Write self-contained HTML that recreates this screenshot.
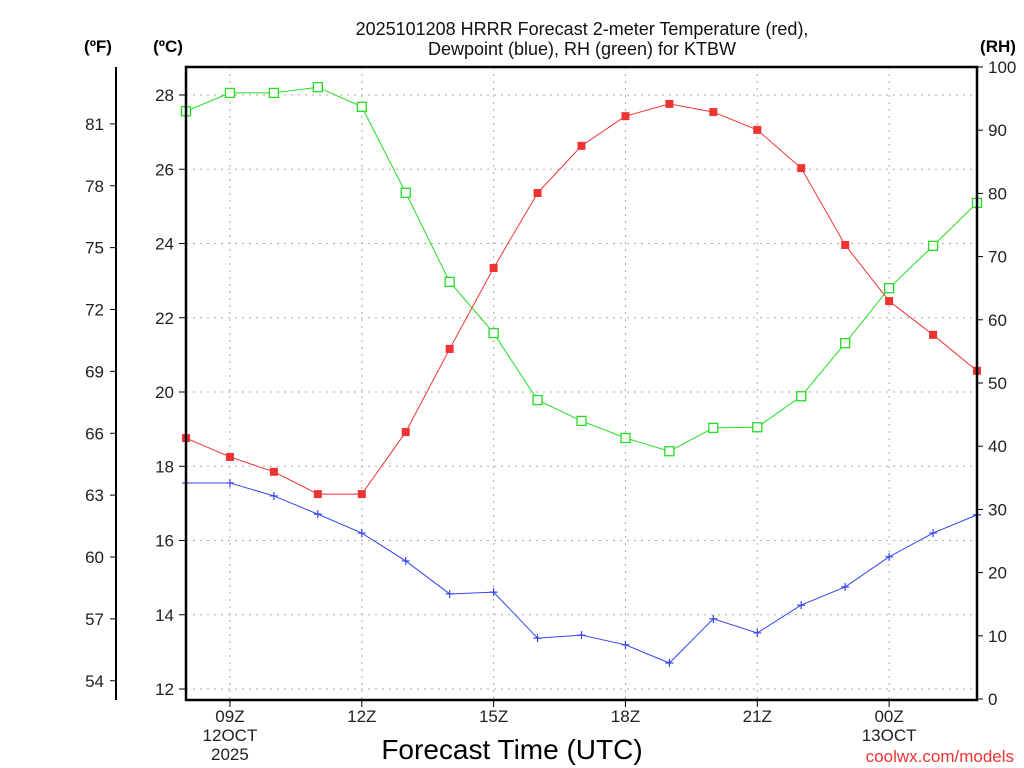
<!DOCTYPE html>
<html><head><meta charset="utf-8"><style>
body{margin:0;background:#fff;width:1024px;height:768px;overflow:hidden}
svg{display:block;font-family:"Liberation Sans","DejaVu Sans",sans-serif}
</style></head><body>
<svg id="chart" width="1024" height="768" viewBox="0 0 1024 768"></svg>
<script>
const hours = ["08","09","10","11","12","13","14","15","16","17","18","19","20","21","22","23","00","01","02"];
const tempC = [18.76,18.25,17.85,17.25,17.25,18.92,21.16,23.34,25.36,26.63,27.43,27.76,27.54,27.06,26.03,23.96,22.45,21.54,20.57];
const dewC = [17.55,17.55,17.2,16.71,16.2,15.45,14.56,14.61,13.37,13.45,13.19,12.70,13.89,13.51,14.26,14.75,15.56,16.2,16.69];
const rhPct = [93.0,95.9,95.9,96.8,93.7,80.1,66.0,57.9,47.3,44.0,41.3,39.2,42.9,43.0,47.9,56.3,65.0,71.7,78.5];
const cTicks = [12,14,16,18,20,22,24,26,28];
const fTicks = [54,57,60,63,66,69,72,75,78,81];
const rhTicks = [0,10,20,30,40,50,60,70,80,90,100];
const xTickIdx = [1,4,7,10,13,16];
const xTickLabels = ["09Z","12Z","15Z","18Z","21Z","00Z"];

const L=186,R=977,T=67,B=700;
const NS="http://www.w3.org/2000/svg";
const svg=document.getElementById('chart');
const xS=i=>L+i*(R-L)/(hours.length-1);
const yC=c=>689-(c-12)*37.125;
const yF=f=>yC((f-32)/1.8);
const yRH=r=>699-r*6.32;
function mk(tag,attrs,parent){const e=document.createElementNS(NS,tag);for(const k in attrs)e.setAttribute(k,attrs[k]);(parent||svg).appendChild(e);return e;}
function txt(s,x,y,attrs){const e=mk('text',Object.assign({x:x,y:y},attrs));e.textContent=s;return e;}

// grid
cTicks.forEach(c=>{const g=mk('line',{x1:L,x2:R,y1:yC(c),y2:yC(c),stroke:'#aaa','stroke-dasharray':'2,5','stroke-width':1});

});
xTickIdx.forEach(i=>{const g=mk('line',{x1:xS(i),x2:xS(i),y1:T,y2:B,stroke:'#aaa','stroke-dasharray':'2,5','stroke-width':1});

});

// series
function series(vals,yf,color,name,marker){
  const pts=vals.map((v,i)=>xS(i)+','+yf(v)).join(' ');
  const pl=mk('polyline',{points:pts,fill:'none',stroke:color,'stroke-width':1});
  
  
  vals.forEach((v,i)=>{
    const x=xS(i),y=yf(v);let m;
    if(marker==='fill'){m=mk('rect',{x:x-4,y:y-4,width:8,height:8,fill:color});}
    else if(marker==='open'){m=mk('rect',{x:x-4.5,y:y-4.5,width:9,height:9,fill:'#fff',stroke:color,'stroke-width':1.3});}
    else{m=mk('path',{d:`M${x-4},${y}H${x+4}M${x},${y-4}V${y+4}`,stroke:color,'stroke-width':1.2});}
    
    
  });
}
series(rhPct,yRH,'#22dd22','rh','open');
series(tempC,yC,'#ee3333','temperature','fill');
series(dewC,yC,'#3344ee','dewpoint','plus');

// frame
const fr=mk('rect',{x:L,y:T,width:R-L,height:B-T,fill:'none',stroke:'#000','stroke-width':2.5});



const ts={fill:'#222','font-size':17};
// C axis
cTicks.forEach(c=>{mk('line',{x1:L-7,x2:L,y1:yC(c),y2:yC(c),stroke:'#000'});
const t=txt(String(c),L-12,yC(c)+6,Object.assign({'text-anchor':'end'},ts));

});
// F axis
const fa=mk('line',{x1:116,x2:116,y1:T,y2:B,stroke:'#000','stroke-width':2});


fTicks.forEach(f=>{mk('line',{x1:110,x2:116,y1:yF(f),y2:yF(f),stroke:'#000'});
const t=txt(String(f),104,yF(f)+6,Object.assign({'text-anchor':'end'},ts));

});
// RH axis
rhTicks.forEach(r=>{mk('line',{x1:R,x2:R+6,y1:yRH(r),y2:yRH(r),stroke:'#000'});
const t=txt(String(r),988,yRH(r)+6,Object.assign({'text-anchor':'start'},ts));

});
// X axis
xTickIdx.forEach((i,k)=>{mk('line',{x1:xS(i),x2:xS(i),y1:B,y2:B+7,stroke:'#000'});
const t=txt(xTickLabels[k],xS(i),722,Object.assign({'text-anchor':'middle'},ts));

});
[["12OCT",xS(1),741],["2025",xS(1),760],["13OCT",xS(16),741]].forEach(a=>{
const t=txt(a[0],a[1],a[2],Object.assign({'text-anchor':'middle'},ts));

});

// titles
const ut={'font-weight':'bold','font-size':17,fill:'#000','text-anchor':'middle'};
[["(ºF)",98,52,'fahrenheit-unit'],["(ºC)",168,52,'celsius-unit'],["(RH)",998,52,'rh-unit']].forEach(a=>{
const t=txt(a[0],a[1],a[2],ut);});
const t1=txt("2025101208 HRRR Forecast 2-meter Temperature (red),",582,35,{'text-anchor':'middle','font-size':18,fill:'#111'});


const t2=txt("Dewpoint (blue), RH (green) for KTBW",582,55,{'text-anchor':'middle','font-size':18,fill:'#111'});


const xt=txt("Forecast Time (UTC)",512,759,{'text-anchor':'middle','font-size':28,fill:'#000'});


const cr=txt("coolwx.com/models",1014,762,{'text-anchor':'end','font-size':17,fill:'#ee3333'});


</script>
</body></html>
